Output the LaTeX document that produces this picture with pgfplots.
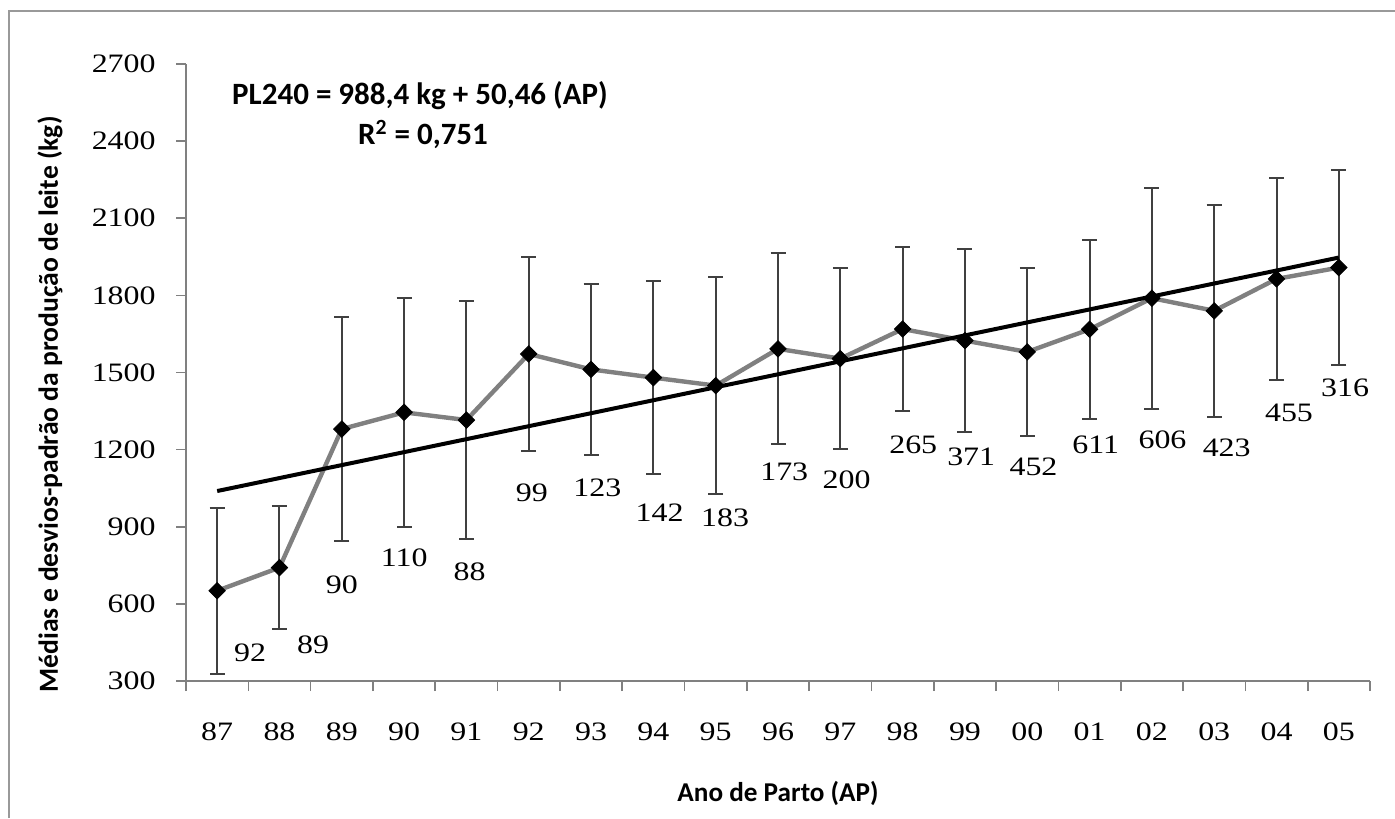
\documentclass[border=0pt]{standalone}
\usepackage{pgfplots}
\pgfplotsset{compat=1.18}
\usepackage{pgfplotstable}
\usepackage{fontspec}
\setmainfont{Carlito}
\newfontfamily\numfont[FakeStretch=1.2]{Liberation Serif}

\pgfplotstableread{
x y sd
0 651 323
1 741 239
2 1280 434
3 1345 446
4 1315 463
5 1572 379
6 1512 334
7 1480 375
8 1449 423
9 1592 372
10 1554 352
11 1669 318
12 1624 357
13 1580 328
14 1668 347
15 1789 430
16 1740 412
17 1864 394
18 1908 380
}\means

\pgfplotstableread{
x y n
0.53 409 92
1.54 440 89
2.0 673 90
3.0 778 110
4.05 724 88
5.05 1031 99
6.1 1051 123
7.1 953 142
8.15 934 183
9.1 1113 173
10.1 1082 200
11.17 1218 265
12.1 1171 371
13.1 1132 452
14.1 1218 611
15.17 1237 606
16.2 1206 423
17.2 1342 455
18.1 1440 316
}\counts

\pgfplotstableread{
x y
0 1038.9
18 1947.1
}\trend

\begin{document}
\begin{tikzpicture}
\path[use as bounding box] (0,0) rectangle (697.5pt,409pt);
\draw[black!40, line width=1pt] (4.5pt,0) -- (4.5pt,403.5pt) -- (697.5pt,403.5pt);
\begin{axis}[
  at={(93pt,68.5pt)}, anchor=south west,
  scale only axis, width=592pt, height=308.5pt,
  xmin=-0.5, xmax=18.5, ymin=300, ymax=2700,
  axis x line*=bottom, axis y line*=left,
  axis line style={black!50, line width=0.8pt},
  tick align=outside,
  ytick={300,600,...,2700},
  yticklabels={300,600,900,1200,1500,1800,2100,2400,2700},
  xtick={0,...,18},
  xticklabels={87,88,89,90,91,92,93,94,95,96,97,98,99,00,01,02,03,04,05},
  minor xtick={-0.5,0.5,...,18.5},
  major tick length=5pt, minor tick length=5pt,
  tick style={black!50, line width=0.8pt},
  major x tick style={draw=none},
  yticklabel style={font=\fontsize{13.3}{15}\selectfont\numfont, anchor=east, inner sep=0pt, xshift=-10pt},
  xticklabel style={font=\fontsize{13.3}{15}\selectfont\numfont, anchor=center, inner sep=0pt, yshift=-20.5pt},
  xlabel={Ano de Parto (AP)},
  ylabel={Médias e desvios-padrão da produção de leite (kg)},
  xlabel style={font=\fontsize{13.6}{15}\selectfont\bfseries, at={(axis description cs:0.5,0)}, anchor=center, yshift=-56pt},
  ylabel style={font=\fontsize{13.8}{15}\selectfont\bfseries, at={(axis description cs:0,0.5)}, anchor=center, yshift=68pt, xshift=-16pt},
  clip=false,
]
\addplot[color=black!50, line width=2.2pt, mark=none,
  error bars/.cd, y dir=both, y explicit,
  error bar style={line width=1pt, black!75},
  error mark options={rotate=90, mark size=3.75pt, line width=1pt, black!75}]
  table[x=x, y=y, y error=sd] {\means};
\addplot[black, line width=2pt, mark=none] table[x=x, y=y] {\trend};
\addplot[only marks, mark=square*, mark size=2.9pt, mark options={rotate=45, fill=black, draw=black}] table[x=x, y=y] {\means};
\addplot[draw=none, mark=none, nodes near coords={\pgfplotspointmeta}, point meta=explicit symbolic,
  nodes near coords style={anchor=center, inner sep=0pt, font=\fontsize{13.3}{15}\selectfont\numfont}]
  table[x=x, y=y, meta=n] {\counts};
\end{axis}
\node[anchor=base, font=\fontsize{15.5}{18}\selectfont\bfseries] at (210pt,356.5pt) {PL240 = 988,4 kg + 50,46 (AP)};
\node[anchor=base, font=\fontsize{15.5}{18}\selectfont\bfseries] at (211.5pt,336.5pt) {R\textsuperscript{2} = 0,751};
\end{tikzpicture}
\end{document}
